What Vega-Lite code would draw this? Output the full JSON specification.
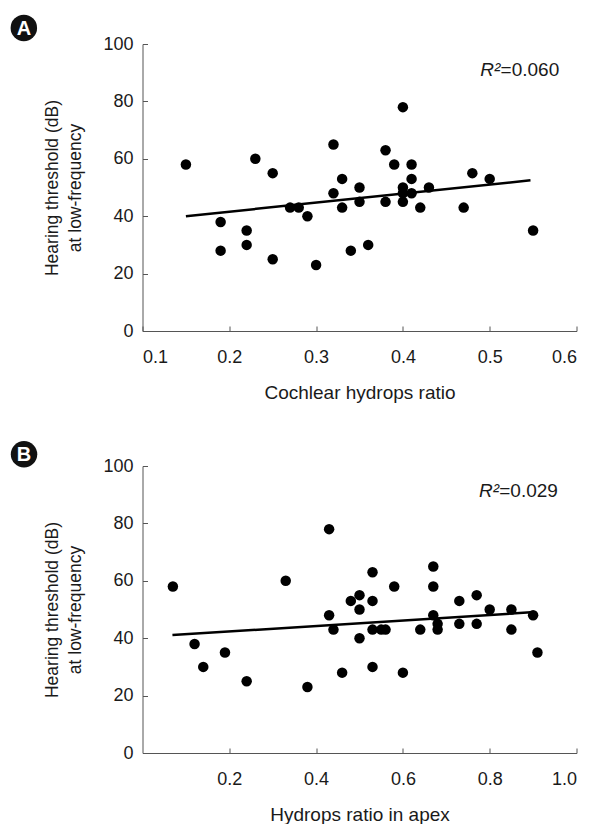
{
  "$schema": "https://vega.github.io/schema/vega-lite/v6.json",
  "padding": {"left": 10.5, "top": 14, "right": 0, "bottom": 0},
  "background": "white",
  "config": {
    "font": "Liberation Sans",
    "view": {"stroke": null},
    "axis": {
      "grid": false,
      "domainColor": "#555555",
      "tickColor": "#555555",
      "tickSize": -5,
      "labelFont": "Liberation Sans",
      "labelFontSize": 18,
      "labelColor": "#1a1a1a",
      "titleFont": "Liberation Sans",
      "titleFontWeight": "normal",
      "titleColor": "#1a1a1a"
    },
    "axisX": {"labelPadding": 22, "titleFontSize": 19, "titlePadding": 17},
    "axisY": {"labelPadding": 14.5, "titleFontSize": 17.5, "titlePadding": 18, "titleLineHeight": 23}
  },
  "datasets": {
    "a_points": [
      {"ratio": 0.15, "threshold": 58}, {"ratio": 0.23, "threshold": 60}, {"ratio": 0.25, "threshold": 55},
      {"ratio": 0.32, "threshold": 65}, {"ratio": 0.33, "threshold": 53}, {"ratio": 0.35, "threshold": 50},
      {"ratio": 0.32, "threshold": 48}, {"ratio": 0.33, "threshold": 43}, {"ratio": 0.35, "threshold": 45},
      {"ratio": 0.27, "threshold": 43}, {"ratio": 0.28, "threshold": 43}, {"ratio": 0.29, "threshold": 40},
      {"ratio": 0.19, "threshold": 38}, {"ratio": 0.22, "threshold": 35}, {"ratio": 0.22, "threshold": 30},
      {"ratio": 0.19, "threshold": 28}, {"ratio": 0.25, "threshold": 25}, {"ratio": 0.30, "threshold": 23},
      {"ratio": 0.34, "threshold": 28}, {"ratio": 0.36, "threshold": 30}, {"ratio": 0.40, "threshold": 78},
      {"ratio": 0.38, "threshold": 63}, {"ratio": 0.39, "threshold": 58}, {"ratio": 0.41, "threshold": 58},
      {"ratio": 0.41, "threshold": 53}, {"ratio": 0.40, "threshold": 50}, {"ratio": 0.43, "threshold": 50},
      {"ratio": 0.40, "threshold": 48}, {"ratio": 0.41, "threshold": 48}, {"ratio": 0.38, "threshold": 45},
      {"ratio": 0.40, "threshold": 45}, {"ratio": 0.42, "threshold": 43}, {"ratio": 0.47, "threshold": 43},
      {"ratio": 0.48, "threshold": 55}, {"ratio": 0.50, "threshold": 53}, {"ratio": 0.55, "threshold": 35}
    ],
    "a_line": [{"ratio": 0.15, "threshold": 40.0}, {"ratio": 0.547, "threshold": 52.5}],
    "b_points": [
      {"ratio": 0.07, "threshold": 58}, {"ratio": 0.12, "threshold": 38}, {"ratio": 0.14, "threshold": 30},
      {"ratio": 0.19, "threshold": 35}, {"ratio": 0.24, "threshold": 25}, {"ratio": 0.33, "threshold": 60},
      {"ratio": 0.43, "threshold": 78}, {"ratio": 0.38, "threshold": 23}, {"ratio": 0.43, "threshold": 48},
      {"ratio": 0.44, "threshold": 43}, {"ratio": 0.46, "threshold": 28}, {"ratio": 0.48, "threshold": 53},
      {"ratio": 0.50, "threshold": 55}, {"ratio": 0.50, "threshold": 50}, {"ratio": 0.50, "threshold": 40},
      {"ratio": 0.53, "threshold": 63}, {"ratio": 0.53, "threshold": 53}, {"ratio": 0.53, "threshold": 43},
      {"ratio": 0.53, "threshold": 30}, {"ratio": 0.55, "threshold": 43}, {"ratio": 0.56, "threshold": 43},
      {"ratio": 0.58, "threshold": 58}, {"ratio": 0.60, "threshold": 28}, {"ratio": 0.64, "threshold": 43},
      {"ratio": 0.67, "threshold": 65}, {"ratio": 0.67, "threshold": 58}, {"ratio": 0.67, "threshold": 48},
      {"ratio": 0.68, "threshold": 45}, {"ratio": 0.68, "threshold": 43}, {"ratio": 0.73, "threshold": 53},
      {"ratio": 0.73, "threshold": 45}, {"ratio": 0.77, "threshold": 55}, {"ratio": 0.77, "threshold": 45},
      {"ratio": 0.80, "threshold": 50}, {"ratio": 0.85, "threshold": 50}, {"ratio": 0.85, "threshold": 43},
      {"ratio": 0.90, "threshold": 48}, {"ratio": 0.91, "threshold": 35}
    ],
    "b_line": [{"ratio": 0.069, "threshold": 41.1}, {"ratio": 0.895, "threshold": 49.0}],
    "one": [{}]
  },
  "vconcat": [
    {
      "width": 434,
      "height": 287,
      "layer": [
        {
          "data": {"name": "a_line"},
          "mark": {"type": "line", "color": "black", "strokeWidth": 2.5},
          "encoding": {
            "x": {"field": "ratio", "type": "quantitative", "scale": {"domain": [0.1, 0.6], "nice": false},
                  "axis": {"title": "Cochlear hydrops ratio", "values": [0.1, 0.2, 0.3, 0.4, 0.5, 0.6], "format": ".1f"}},
            "y": {"field": "threshold", "type": "quantitative", "scale": {"domain": [0, 100], "nice": false},
                  "axis": {"title": ["Hearing threshold (dB)", "at low-frequency"], "values": [0, 20, 40, 60, 80, 100]}}
          }
        },
        {
          "data": {"name": "a_points"},
          "mark": {"type": "circle", "color": "black", "opacity": 1, "size": 110},
          "encoding": {
            "x": {"field": "ratio", "type": "quantitative", "scale": {"domain": [0.1, 0.6], "nice": false}},
            "y": {"field": "threshold", "type": "quantitative", "scale": {"domain": [0, 100], "nice": false}}
          }
        },
        {
          "data": {"name": "one"},
          "mark": {"type": "text", "text": "R²", "fontStyle": "italic", "fontSize": 19, "align": "right", "baseline": "middle", "color": "#1a1a1a"},
          "encoding": {"x": {"datum": 0.5123, "type": "quantitative"}, "y": {"datum": 91, "type": "quantitative"}}
        },
        {
          "data": {"name": "one"},
          "mark": {"type": "text", "text": "=0.060", "fontSize": 19, "align": "left", "baseline": "middle", "color": "#1a1a1a"},
          "encoding": {"x": {"datum": 0.5125, "type": "quantitative"}, "y": {"datum": 91, "type": "quantitative"}}
        },
        {
          "data": {"name": "one"},
          "mark": {"type": "circle", "color": "#111111", "opacity": 1, "size": 700},
          "encoding": {"x": {"datum": -0.0367, "type": "quantitative"}, "y": {"datum": 105.6, "type": "quantitative"}}
        },
        {
          "data": {"name": "one"},
          "mark": {"type": "text", "text": "A", "fontSize": 20, "fontWeight": "bold", "color": "white", "align": "center", "baseline": "middle", "dy": 1},
          "encoding": {"x": {"datum": -0.0367, "type": "quantitative"}, "y": {"datum": 105.6, "type": "quantitative"}}
        }
      ]
    },
    {
      "width": 434,
      "height": 287,
      "layer": [
        {
          "data": {"name": "b_line"},
          "mark": {"type": "line", "color": "black", "strokeWidth": 2.5},
          "encoding": {
            "x": {"field": "ratio", "type": "quantitative", "scale": {"domain": [0, 1], "nice": false},
                  "axis": {"title": "Hydrops ratio in apex", "values": [0.2, 0.4, 0.6, 0.8, 1.0], "format": ".1f"}},
            "y": {"field": "threshold", "type": "quantitative", "scale": {"domain": [0, 100], "nice": false},
                  "axis": {"title": ["Hearing threshold (dB)", "at low-frequency"], "values": [0, 20, 40, 60, 80, 100]}}
          }
        },
        {
          "data": {"name": "b_points"},
          "mark": {"type": "circle", "color": "black", "opacity": 1, "size": 110},
          "encoding": {
            "x": {"field": "ratio", "type": "quantitative", "scale": {"domain": [0, 1], "nice": false}},
            "y": {"field": "threshold", "type": "quantitative", "scale": {"domain": [0, 100], "nice": false}}
          }
        },
        {
          "data": {"name": "one"},
          "mark": {"type": "text", "text": "R²", "fontStyle": "italic", "fontSize": 19, "align": "right", "baseline": "middle", "color": "#1a1a1a"},
          "encoding": {"x": {"datum": 0.8216, "type": "quantitative"}, "y": {"datum": 91.3, "type": "quantitative"}}
        },
        {
          "data": {"name": "one"},
          "mark": {"type": "text", "text": "=0.029", "fontSize": 19, "align": "left", "baseline": "middle", "color": "#1a1a1a"},
          "encoding": {"x": {"datum": 0.822, "type": "quantitative"}, "y": {"datum": 91.3, "type": "quantitative"}}
        },
        {
          "data": {"name": "one"},
          "mark": {"type": "circle", "color": "#111111", "opacity": 1, "size": 700},
          "encoding": {"x": {"datum": -0.273, "type": "quantitative"}, "y": {"datum": 104.1, "type": "quantitative"}}
        },
        {
          "data": {"name": "one"},
          "mark": {"type": "text", "text": "B", "fontSize": 20, "fontWeight": "bold", "color": "white", "align": "center", "baseline": "middle", "dy": 1},
          "encoding": {"x": {"datum": -0.273, "type": "quantitative"}, "y": {"datum": 104.1, "type": "quantitative"}}
        }
      ]
    }
  ],
  "bounds": "flush",
  "spacing": 135
}
